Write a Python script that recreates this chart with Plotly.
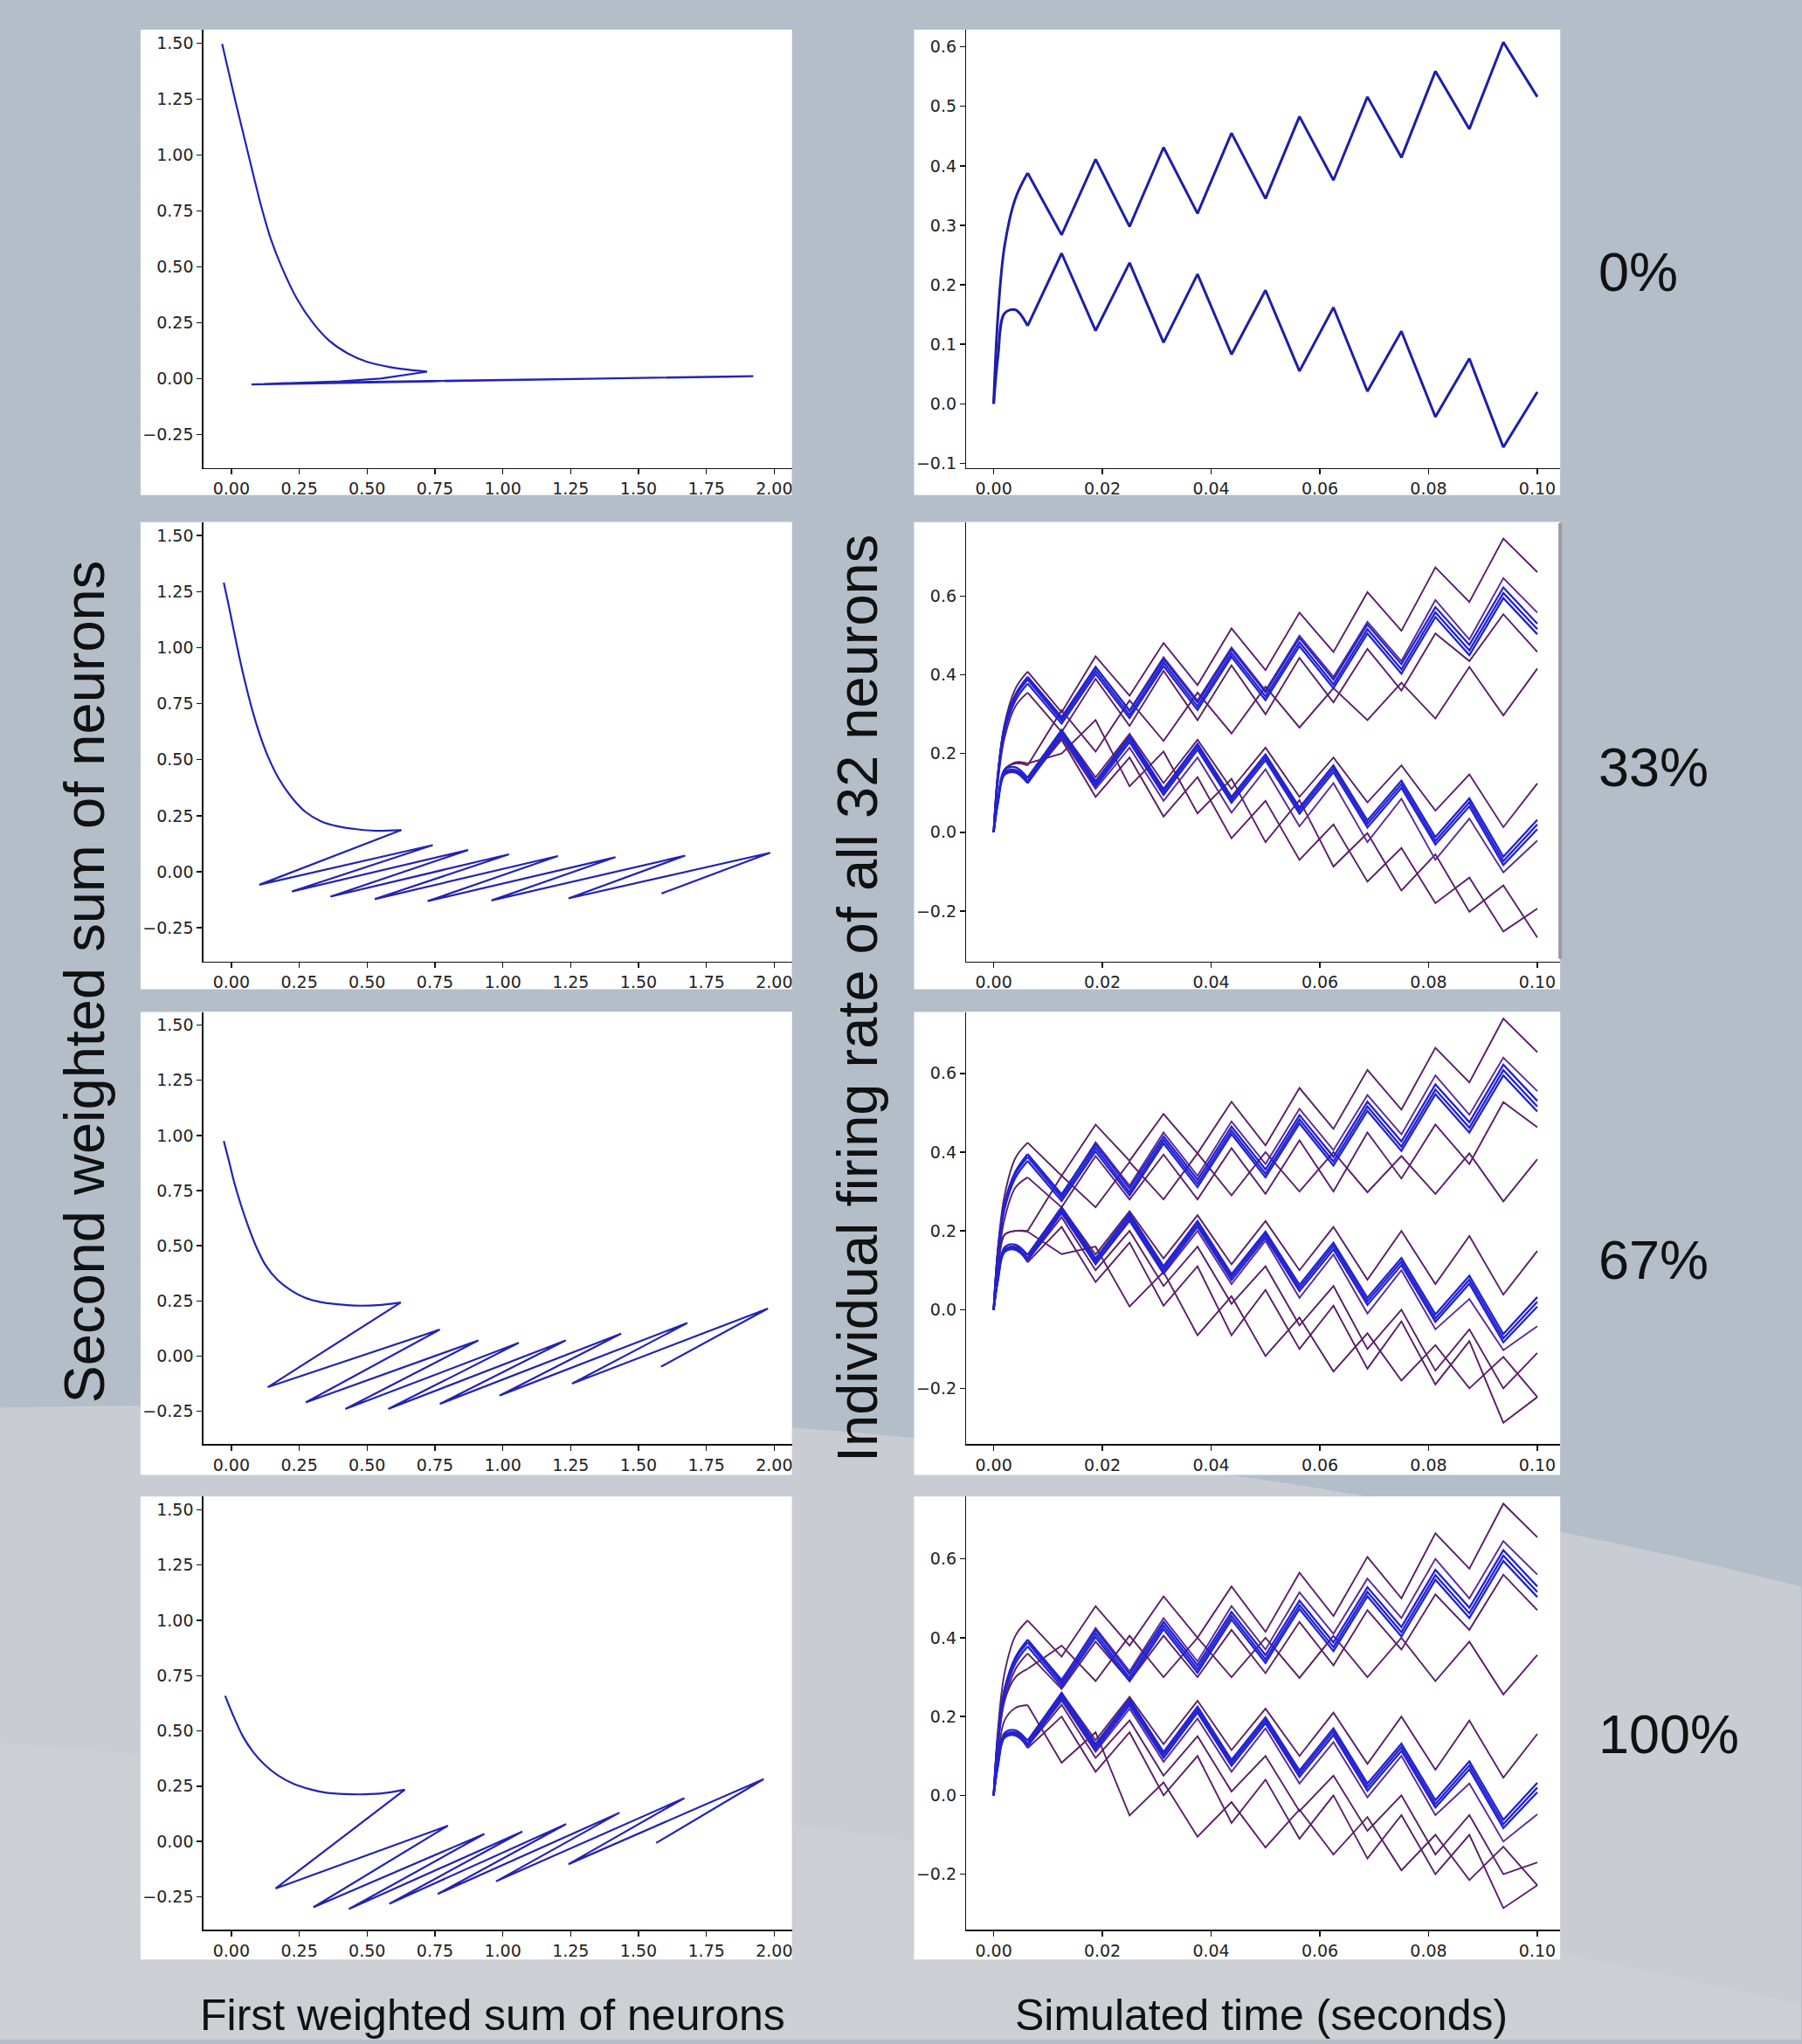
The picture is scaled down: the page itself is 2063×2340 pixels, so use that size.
import plotly.graph_objects as go

W, H = 2063, 2340

# ---------------- data: phase plots (left column) ----------------
# smooth initial decay (curve) and subsequent zig-zag, per condition
ph0_curve_x = [-0.034, -0.01, 0.015, 0.04, 0.06, 0.085, 0.11, 0.145, 0.185, 0.24, 0.30, 0.36, 0.428, 0.50, 0.582, 0.65, 0.721]
ph0_curve_y = [1.496, 1.37, 1.24, 1.115, 1.015, 0.89, 0.77, 0.625, 0.50, 0.36, 0.25, 0.17, 0.113, 0.075, 0.052, 0.04, 0.031]
ph0_zig_x = [0.721, 0.55, 0.40, 0.074, 1.923, 0.12, 1.90, 0.20, 1.92]
ph0_zig_y = [0.031, 0.0, -0.012, -0.026, 0.011, -0.024, 0.012, -0.02, 0.010]

ph33_curve_x = [-0.028, -0.012, 0.005, 0.022, 0.04, 0.06, 0.082, 0.108, 0.138, 0.175, 0.22, 0.27, 0.33, 0.39, 0.46, 0.53, 0.626]
ph33_curve_y = [1.29, 1.2, 1.1, 1.0, 0.9, 0.8, 0.7, 0.6, 0.505, 0.415, 0.335, 0.27, 0.225, 0.203, 0.19, 0.183, 0.186]
ph33_zig_x = [0.626, 0.103, 0.742, 0.223, 0.872, 0.365, 1.023, 0.528, 1.203, 0.723, 1.415, 0.958, 1.672, 1.242, 1.985, 1.585]
ph33_zig_y = [0.186, -0.058, 0.119, -0.088, 0.097, -0.111, 0.078, -0.122, 0.07, -0.131, 0.065, -0.128, 0.072, -0.119, 0.085, -0.097]

ph67_curve_x = [-0.028, -0.01, 0.01, 0.034, 0.06, 0.09, 0.127, 0.17, 0.219, 0.27, 0.328, 0.39, 0.451, 0.54, 0.624]
ph67_curve_y = [0.975, 0.89, 0.79, 0.69, 0.595, 0.50, 0.41, 0.345, 0.298, 0.265, 0.245, 0.235, 0.229, 0.231, 0.243]
ph67_zig_x = [0.624, 0.134, 0.768, 0.274, 0.91, 0.42, 1.059, 0.578, 1.232, 0.768, 1.436, 0.988, 1.68, 1.255, 1.977, 1.583]
ph67_zig_y = [0.243, -0.141, 0.12, -0.21, 0.071, -0.24, 0.06, -0.24, 0.071, -0.217, 0.102, -0.179, 0.15, -0.125, 0.216, -0.048]

ph100_curve_x = [-0.023, 0.01, 0.043, 0.08, 0.12, 0.17, 0.228, 0.29, 0.351, 0.42, 0.49, 0.56, 0.639]
ph100_curve_y = [0.659, 0.56, 0.474, 0.405, 0.35, 0.30, 0.261, 0.236, 0.22, 0.214, 0.213, 0.218, 0.234]
ph100_zig_x = [0.639, 0.163, 0.798, 0.302, 0.932, 0.433, 1.072, 0.582, 1.233, 0.76, 1.43, 0.975, 1.669, 1.242, 1.961, 1.565]
ph100_zig_y = [0.234, -0.213, 0.071, -0.298, 0.034, -0.306, 0.045, -0.282, 0.078, -0.238, 0.13, -0.181, 0.196, -0.103, 0.282, -0.007]

# ---------------- data: firing rates (right column) ----------------
T = [0, 0.0008, 0.002, 0.004, 0.00625, 0.0125, 0.01875, 0.025, 0.03125, 0.0375, 0.04375, 0.05,
     0.05625, 0.0625, 0.06875, 0.075, 0.08125, 0.0875, 0.09375, 0.1]

U0 = [0, 0.15, 0.265, 0.345, 0.388, 0.284, 0.411, 0.298, 0.431, 0.320, 0.455, 0.345, 0.483, 0.376, 0.516, 0.414, 0.559, 0.462, 0.608, 0.516]
L0 = [0, 0.08, 0.152, 0.158, 0.131, 0.253, 0.123, 0.237, 0.103, 0.218, 0.083, 0.191, 0.055, 0.162, 0.021, 0.122, -0.022, 0.076, -0.073, 0.020]
UA = [0, 0.15, 0.27, 0.35, 0.395, 0.293, 0.42, 0.308, 0.44, 0.33, 0.465, 0.356, 0.494, 0.388, 0.528, 0.427, 0.572, 0.476, 0.622, 0.53]
UB = [0, 0.14, 0.255, 0.335, 0.378, 0.276, 0.402, 0.29, 0.422, 0.311, 0.446, 0.336, 0.473, 0.366, 0.505, 0.403, 0.547, 0.45, 0.595, 0.503]
LA = [0, 0.085, 0.158, 0.165, 0.138, 0.26, 0.13, 0.244, 0.11, 0.225, 0.09, 0.198, 0.063, 0.17, 0.03, 0.131, -0.012, 0.086, -0.062, 0.032]
LB = [0, 0.075, 0.146, 0.152, 0.125, 0.246, 0.116, 0.229, 0.095, 0.21, 0.075, 0.183, 0.047, 0.153, 0.012, 0.113, -0.031, 0.066, -0.083, 0.008]

r33_p1 = [0, 0.15, 0.275, 0.365, 0.408, 0.305, 0.447, 0.347, 0.481, 0.374, 0.518, 0.412, 0.558, 0.458, 0.61, 0.512, 0.673, 0.585, 0.746, 0.661]
r33_p2 = [0, 0.15, 0.265, 0.345, 0.39, 0.29, 0.42, 0.31, 0.445, 0.335, 0.47, 0.36, 0.5, 0.395, 0.535, 0.435, 0.59, 0.49, 0.646, 0.558]
r33_p3 = [0, 0.13, 0.24, 0.32, 0.355, 0.255, 0.39, 0.27, 0.41, 0.285, 0.424, 0.30, 0.443, 0.33, 0.466, 0.36, 0.505, 0.435, 0.554, 0.458]
r33_p4 = [0, 0.08, 0.16, 0.175, 0.17, 0.31, 0.205, 0.335, 0.232, 0.355, 0.251, 0.37, 0.266, 0.366, 0.285, 0.38, 0.289, 0.42, 0.297, 0.416]
r33_p5 = [0, 0.08, 0.155, 0.178, 0.175, 0.20, 0.285, 0.117, 0.205, 0.048, 0.136, -0.025, 0.082, -0.087, -0.002, -0.148, -0.056, -0.202, -0.135, -0.267]
r33_p6 = [0, 0.08, 0.152, 0.158, 0.14, 0.26, 0.14, 0.25, 0.125, 0.235, 0.11, 0.215, 0.09, 0.19, 0.076, 0.17, 0.055, 0.147, 0.013, 0.124]
r33_p7 = [0, 0.08, 0.15, 0.155, 0.125, 0.24, 0.11, 0.215, 0.08, 0.19, 0.05, 0.16, 0.015, 0.125, -0.025, 0.085, -0.07, 0.035, -0.102, -0.021]
r33_p8 = [0, 0.08, 0.15, 0.155, 0.13, 0.235, 0.09, 0.19, 0.04, 0.14, -0.015, 0.08, -0.07, 0.02, -0.125, -0.04, -0.18, -0.115, -0.252, -0.194]

r67_p1 = [0, 0.16, 0.29, 0.385, 0.424, 0.34, 0.47, 0.378, 0.497, 0.397, 0.528, 0.417, 0.563, 0.459, 0.609, 0.508, 0.665, 0.577, 0.739, 0.654]
r67_p2 = [0, 0.15, 0.27, 0.35, 0.395, 0.29, 0.425, 0.315, 0.45, 0.34, 0.478, 0.37, 0.51, 0.405, 0.545, 0.445, 0.595, 0.495, 0.64, 0.555]
r67_p3 = [0, 0.12, 0.23, 0.31, 0.336, 0.26, 0.39, 0.28, 0.394, 0.28, 0.41, 0.294, 0.43, 0.30, 0.45, 0.333, 0.47, 0.37, 0.527, 0.463]
r67_p4 = [0, 0.1, 0.19, 0.2, 0.2, 0.34, 0.26, 0.375, 0.28, 0.397, 0.29, 0.40, 0.30, 0.40, 0.298, 0.39, 0.294, 0.397, 0.275, 0.382]
r67_p5 = [0, 0.1, 0.19, 0.2, 0.198, 0.141, 0.16, 0.008, 0.096, -0.065, 0.034, -0.118, -0.02, -0.157, -0.06, -0.18, -0.09, -0.2, -0.12, -0.222]
r67_p6 = [0, 0.08, 0.15, 0.155, 0.12, 0.21, 0.07, 0.17, 0.01, 0.11, -0.065, 0.05, -0.1, 0.01, -0.15, -0.03, -0.19, -0.08, -0.287, -0.222]
r67_p7 = [0, 0.08, 0.152, 0.16, 0.14, 0.26, 0.14, 0.25, 0.13, 0.24, 0.115, 0.225, 0.1, 0.21, 0.076, 0.2, 0.065, 0.187, 0.038, 0.149]
r67_p8 = [0, 0.08, 0.15, 0.155, 0.128, 0.245, 0.115, 0.225, 0.09, 0.2, 0.065, 0.175, 0.03, 0.14, -0.01, 0.1, -0.05, 0.027, -0.103, -0.042]
r67_p9 = [0, 0.08, 0.15, 0.155, 0.125, 0.235, 0.1, 0.2, 0.06, 0.16, 0.015, 0.11, -0.04, 0.06, -0.1, 0.0, -0.155, -0.05, -0.2, -0.11]

r100_p1 = [0, 0.17, 0.31, 0.405, 0.444, 0.352, 0.48, 0.38, 0.505, 0.4, 0.53, 0.415, 0.565, 0.455, 0.605, 0.5, 0.665, 0.575, 0.74, 0.655]
r100_p2 = [0, 0.15, 0.27, 0.35, 0.395, 0.29, 0.425, 0.315, 0.45, 0.34, 0.48, 0.37, 0.515, 0.41, 0.55, 0.45, 0.6, 0.5, 0.645, 0.56]
r100_p3 = [0, 0.13, 0.24, 0.32, 0.36, 0.27, 0.39, 0.29, 0.405, 0.3, 0.42, 0.31, 0.44, 0.33, 0.47, 0.37, 0.51, 0.42, 0.56, 0.47]
r100_p4 = [0, 0.13, 0.24, 0.3, 0.321, 0.38, 0.29, 0.405, 0.3, 0.40, 0.3, 0.40, 0.298, 0.405, 0.3, 0.40, 0.29, 0.39, 0.256, 0.356]
r100_p5 = [0, 0.1, 0.19, 0.222, 0.229, 0.083, 0.16, -0.051, 0.033, -0.105, -0.017, -0.132, -0.036, -0.15, -0.055, -0.19, -0.1, -0.215, -0.13, -0.228]
r100_p6 = [0, 0.08, 0.15, 0.155, 0.12, 0.2, 0.06, 0.16, 0.0, 0.1, -0.07, 0.04, -0.11, 0.0, -0.16, -0.05, -0.2, -0.1, -0.286, -0.228]
r100_p7 = [0, 0.08, 0.152, 0.16, 0.14, 0.26, 0.14, 0.25, 0.13, 0.24, 0.115, 0.22, 0.1, 0.21, 0.08, 0.2, 0.065, 0.19, 0.045, 0.156]
r100_p8 = [0, 0.08, 0.15, 0.155, 0.128, 0.24, 0.11, 0.22, 0.085, 0.195, 0.06, 0.17, 0.03, 0.135, -0.005, 0.1, -0.05, 0.03, -0.117, -0.048]
r100_p9 = [0, 0.08, 0.15, 0.155, 0.125, 0.23, 0.095, 0.19, 0.05, 0.15, 0.01, 0.1, -0.04, 0.05, -0.09, 0.0, -0.15, -0.05, -0.2, -0.17]

row_labels = ["0%", "33%", "67%", "100%"]
xlabel_left = "First weighted sum of neurons"
xlabel_right = "Simulated time (seconds)"
ylabel_left = "Second weighted sum of neurons"
ylabel_right = "Individual firing rate of all 32 neurons"

# ---------------- styling / layout ----------------
BLUE = "#2222d2"
BLUE_DARK = "#1e1ea8"
PHASE_BLUE = "#2323b4"
PURP = "#5a1f68"
PURP2 = "#5b2a9a"

panel_rows = [(34, 568), (599, 1135), (1161, 1692), (1717, 2248)]
axis_rows = [(34, 537), (599, 1103), (1161, 1657), (1717, 2214)]
left_panel_x = (161, 907)
right_panel_x = (1047, 1787)
left_axis_x = (233, 907)
right_axis_x = (1107, 1787)
right_yranges = [[-0.108, 0.629], [-0.328, 0.788], [-0.342, 0.756], [-0.341, 0.758]]

fig = go.Figure()


def dx(a, b):
    return [a / W, b / W]


def dy(top, bottom):
    return [1 - bottom / H, 1 - top / H]


def ax_name(i):
    return ("x" if i == 0 else f"x{i+1}"), ("y" if i == 0 else f"y{i+1}")


tickfont = dict(family="DejaVu Sans", size=19, color="#222222")
common = dict(showgrid=False, zeroline=False, showline=True, linecolor="#111111", linewidth=1.6,
              ticks="outside", ticklen=6, tickwidth=1.4, tickcolor="#111111", tickfont=tickfont,
              mirror=False, fixedrange=True)

phase = [
    (ph0_curve_x, ph0_curve_y, ph0_zig_x, ph0_zig_y),
    (ph33_curve_x, ph33_curve_y, ph33_zig_x, ph33_zig_y),
    (ph67_curve_x, ph67_curve_y, ph67_zig_x, ph67_zig_y),
    (ph100_curve_x, ph100_curve_y, ph100_zig_x, ph100_zig_y),
]
right_sets = [
    [],
    [(r33_p1, PURP), (r33_p2, PURP2), (r33_p3, PURP), (r33_p4, PURP), (r33_p5, PURP), (r33_p6, PURP),
     (r33_p7, PURP2), (r33_p8, PURP)],
    [(r67_p1, PURP), (r67_p2, PURP2), (r67_p3, PURP), (r67_p4, PURP), (r67_p5, PURP), (r67_p6, PURP),
     (r67_p7, PURP), (r67_p8, PURP2), (r67_p9, PURP)],
    [(r100_p1, PURP), (r100_p2, PURP2), (r100_p3, PURP), (r100_p4, PURP), (r100_p5, PURP), (r100_p6, PURP),
     (r100_p7, PURP), (r100_p8, PURP2), (r100_p9, PURP)],
]

N_EARLY = 5  # first points (t <= 0.00625) drawn as a smooth rise


def add_rate_line(ys, color, width, xn, yn):
    fig.add_trace(go.Scatter(x=T[:N_EARLY], y=ys[:N_EARLY], mode="lines",
                             line=dict(color=color, width=width, shape="spline", smoothing=1.0),
                             xaxis=xn, yaxis=yn, showlegend=False, hoverinfo="skip"))
    fig.add_trace(go.Scatter(x=T[N_EARLY - 1:], y=ys[N_EARLY - 1:], mode="lines",
                             line=dict(color=color, width=width),
                             xaxis=xn, yaxis=yn, showlegend=False, hoverinfo="skip"))


layout = {}
shapes = []


def px(x, y):
    return f"{x / W:.4f},{1 - y / H:.4f}"


# background: lighter lower sweep
path = ("M " + px(0, 1615) + " Q " + px(1150, 1590) + " " + px(2063, 1820) +
        " L " + px(2063, 2340) + " L " + px(0, 2340) + " Z")
shapes.append(dict(type="path", path=path, xref="paper", yref="paper", fillcolor="#c9cdd3",
                   line=dict(width=0), layer="below"))
path2 = ("M " + px(0, 2000) + " Q " + px(1100, 2080) + " " + px(2063, 2300) +
         " L " + px(2063, 2340) + " L " + px(0, 2340) + " Z")
shapes.append(dict(type="path", path=path2, xref="paper", yref="paper", fillcolor="#cccfd4",
                   line=dict(width=0), layer="below"))

for r in range(4):
    top, bot = panel_rows[r]
    for (x0, x1) in (left_panel_x, right_panel_x):
        shapes.append(dict(type="rect", xref="paper", yref="paper", x0=x0 / W, x1=x1 / W,
                           y0=1 - bot / H, y1=1 - top / H, fillcolor="white", line=dict(width=0),
                           layer="below"))

    # left (phase) subplot
    i = 2 * r
    xn, yn = ax_name(i)
    cx, cy, zx, zy = phase[r]
    fig.add_trace(go.Scatter(x=cx, y=cy, mode="lines",
                             line=dict(color=PHASE_BLUE, width=2.2, shape="spline", smoothing=0.8),
                             xaxis=xn, yaxis=yn, showlegend=False, hoverinfo="skip"))
    fig.add_trace(go.Scatter(x=zx, y=zy, mode="lines", line=dict(color=PHASE_BLUE, width=2.2),
                             xaxis=xn, yaxis=yn, showlegend=False, hoverinfo="skip"))
    layout["xaxis" + ("" if i == 0 else str(i + 1))] = dict(
        common, domain=dx(*left_axis_x), range=[-0.103, 2.065],
        tickvals=[0, 0.25, 0.5, 0.75, 1.0, 1.25, 1.5, 1.75, 2.0], tickformat=".2f", anchor=yn)
    layout["yaxis" + ("" if i == 0 else str(i + 1))] = dict(
        common, domain=dy(*axis_rows[r]), range=[-0.40, 1.56],
        tickvals=[-0.25, 0, 0.25, 0.5, 0.75, 1.0, 1.25, 1.5], tickformat=".2f", anchor=xn)

    # right (time) subplot
    i = 2 * r + 1
    xn, yn = ax_name(i)
    for ys, col in right_sets[r]:
        add_rate_line(ys, col, 1.9, xn, yn)
    if r == 0:
        for ys in (U0, L0):
            add_rate_line(ys, BLUE_DARK, 3, xn, yn)
    else:
        for ys in (UA, UB, U0, LA, LB, L0):
            add_rate_line(ys, BLUE, 2.3, xn, yn)
    ytv = [-0.1, 0, 0.1, 0.2, 0.3, 0.4, 0.5, 0.6] if r == 0 else [-0.2, 0, 0.2, 0.4, 0.6]
    layout["xaxis" + str(i + 1)] = dict(
        common, domain=dx(*right_axis_x), range=[-0.005, 0.1042],
        tickvals=[0, 0.02, 0.04, 0.06, 0.08, 0.10], tickformat=".2f", anchor=yn)
    layout["yaxis" + str(i + 1)] = dict(
        common, domain=dy(*axis_rows[r]), range=right_yranges[r], tickvals=ytv, tickformat=".1f", anchor=xn)

# cropped right spine remnant visible on the 33% time panel
shapes.append(dict(type="line", xref="paper", yref="paper", x0=1787 / W, x1=1787 / W,
                   y0=1 - 1100 / H, y1=1 - 600 / H, line=dict(color="#9a9a9a", width=4)))

big = dict(family="Liberation Sans", color="#111111")
annotations = []
pct_y = [312, 880, 1445, 1989]
for r in range(4):
    annotations.append(dict(text=row_labels[r], x=1829 / W, y=1 - pct_y[r] / H, xref="paper", yref="paper",
                            xanchor="left", yanchor="middle", showarrow=False, font=dict(big, size=63)))
annotations.append(dict(text=ylabel_left, x=97 / W, y=1 - 1126 / H, xref="paper", yref="paper",
                        textangle=-90, xanchor="center", yanchor="middle", showarrow=False, font=dict(big, size=65)))
annotations.append(dict(text=ylabel_right, x=982 / W, y=1 - 1146 / H, xref="paper", yref="paper",
                        textangle=-90, xanchor="center", yanchor="middle", showarrow=False, font=dict(big, size=65)))
annotations.append(dict(text=xlabel_left, x=564 / W, y=1 - 2312 / H, xref="paper", yref="paper",
                        xanchor="center", yanchor="middle", showarrow=False, font=dict(big, size=50)))
annotations.append(dict(text=xlabel_right, x=1445 / W, y=1 - 2312 / H, xref="paper", yref="paper",
                        xanchor="center", yanchor="middle", showarrow=False, font=dict(big, size=50)))

fig.update_layout(
    width=W, height=H, margin=dict(l=0, r=0, t=0, b=0),
    paper_bgcolor="#b3bec9", plot_bgcolor="white",
    shapes=shapes, annotations=annotations, showlegend=False,
    **layout,
)

fig.write_html("out.html", config={"displayModeBar": False, "staticPlot": True},
               post_script="document.body.style.margin='0px';document.body.style.overflow='hidden';")
